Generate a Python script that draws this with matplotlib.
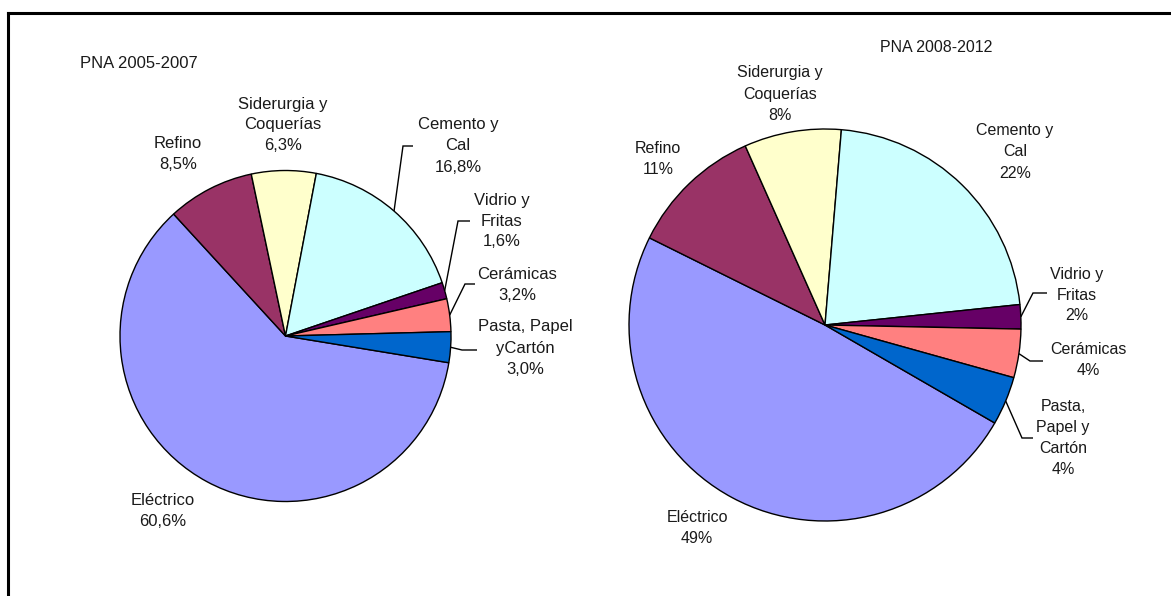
import matplotlib
matplotlib.use("Agg")
import matplotlib.pyplot as plt
import numpy as np

# ---------------- data ----------------
names_left = ["Eléctrico", "Refino", "Siderurgia y\nCoquerías", "Cemento y\nCal",
              "Vidrio y\nFritas", "Cerámicas", "Pasta, Papel\nyCartón"]
values_left = [60.6, 8.5, 6.3, 16.8, 1.6, 3.2, 3.0]
names_right = ["Eléctrico", "Refino", "Siderurgia y\nCoquerías", "Cemento y\nCal",
               "Vidrio y\nFritas", "Cerámicas", "Pasta,\nPapel y\nCartón"]
values_right = [49, 11, 8, 22, 2, 4, 4]
colors = ["#9999FF", "#993366", "#FFFFCC", "#CCFFFF", "#660066", "#FF8080", "#0066CC"]
title_left = "PNA 2005-2007"
title_right = "PNA 2008-2012"

W, H = 1171, 596
fig = plt.figure(figsize=(W / 100, H / 100), dpi=100)
ax = fig.add_axes([0, 0, 1, 1])

def Y(y):  # pixel-from-top -> data y
    return H - y

FONT = "Liberation Sans"

def draw_pie(values, names, center, radius, startangle, fmt, label_pos, leaders, fs):
    wedges, _ = ax.pie(values, colors=colors, startangle=startangle, counterclock=False,
                       center=(center[0], Y(center[1])), radius=radius,
                       wedgeprops=dict(edgecolor="black", linewidth=1.0))
    for i, (w, name, v) in enumerate(zip(wedges, names, values)):
        txt = name + "\n" + fmt(v)
        lx, ly = label_pos[i]
        ax.text(lx, Y(ly), txt, ha="center", va="center", fontsize=fs,
                family=FONT, color="#1a1a1a", linespacing=1.5)
        if i in leaders:
            mid = np.deg2rad((w.theta1 + w.theta2) / 2)
            ex = w.center[0] + w.r * np.cos(mid)
            ey = w.center[1] + w.r * np.sin(mid)
            (bx, by), (cx, cy) = leaders[i]
            ax.plot([ex, bx, cx], [ey, Y(by), Y(cy)], color="black", lw=1.0,
                    solid_capstyle="butt", solid_joinstyle="miter")

fmt_left = lambda v: f"{v:.1f}%".replace(".", ",")
fmt_right = lambda v: f"{v:.0f}%"

left_pos = [(163, 511), (178, 154), (283, 125), (458, 146), (502, 221), (517, 285), (525, 348)]
left_leaders = {3: ((403, 146), (413, 146)),
                4: ((458, 221), (470, 221)),
                5: ((465, 284), (475, 284)),
                6: ((462, 350), (477, 350))}
draw_pie(values_left, names_left, (285.5, 336), 165.5, -9.3, fmt_left,
         left_pos, left_leaders, 12)

right_pos = [(697, 528), (658, 159), (780, 94), (1015, 152), (1077, 295), (1088, 360), (1063, 438)]
right_leaders = {4: ((1033, 293), (1047, 293)),
                 5: ((1030, 361), (1043, 361)),
                 6: ((1022, 438), (1033, 438))}
draw_pie(values_right, names_right, (825, 325), 196, -30, fmt_right,
         right_pos, right_leaders, 11.5)

ax.text(139, Y(63), title_left, ha="center", va="center", fontsize=12, family=FONT, color="#1a1a1a")
ax.text(936, Y(47), title_right, ha="center", va="center", fontsize=11.5, family=FONT, color="#1a1a1a")

# frame (top and left edges visible)
ax.plot([8, W + 5], [Y(13), Y(13)], color="black", lw=2.2, solid_capstyle="projecting")
ax.plot([8, 8], [Y(13), -5], color="black", lw=2.2, solid_capstyle="projecting")

ax.set_xlim(0, W)
ax.set_ylim(0, H)
ax.set_aspect("equal")
ax.axis("off")
fig.savefig("out.png", dpi=100, facecolor="white")
